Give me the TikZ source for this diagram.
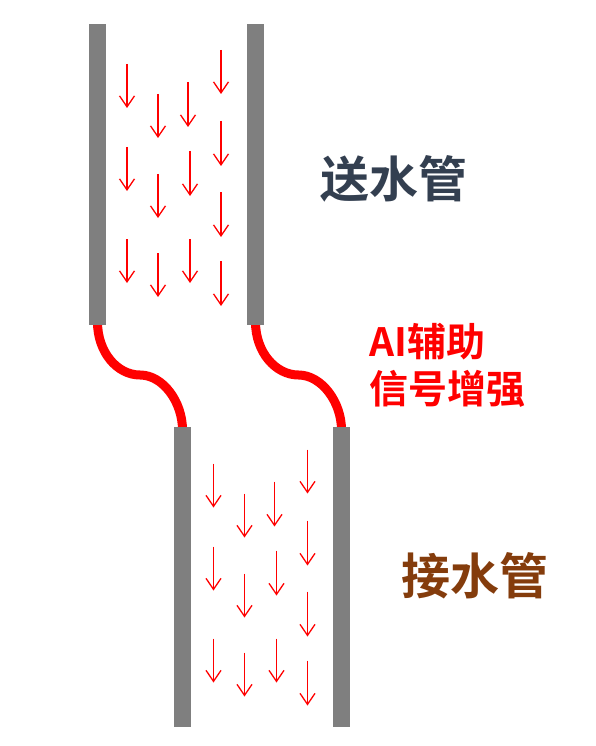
\documentclass[tikz,border=0pt]{standalone}
\usepackage{fontspec}
\newfontfamily\cjk{Noto Sans CJK SC}[BoldFont={Noto Sans CJK SC Bold}]
\usetikzlibrary{arrows.meta}
\definecolor{wallgray}{HTML}{7F7F7F}
\definecolor{labelslate}{HTML}{333F50}
\definecolor{labelbrown}{HTML}{843C0C}
\newcommand{\flowarrows}{%
    \draw[flow] (127,64) -- (127,108);
    \draw[flow] (127,147) -- (127,191);
    \draw[flow] (127,239) -- (127,283);
    \draw[flow] (158,94) -- (158,138);
    \draw[flow] (158,174) -- (158,218);
    \draw[flow] (158,253) -- (158,297);
    \draw[flow] (188,82) -- (188,127);
    \draw[flow] (190,151) -- (190,196);
    \draw[flow] (190,239) -- (190,283);
    \draw[flow] (221,50) -- (221,94);
    \draw[flow] (221,121) -- (221,166);
    \draw[flow] (221,192) -- (221,237);
    \draw[flow] (221,261) -- (221,306);
}

\begin{document}
\begin{tikzpicture}[x=1pt,y=-1pt,
    wall/.style={fill=wallgray,draw=none},
    flow/.style={-{Straight Barb[length=11pt,width=15pt]},red,line width=1.3pt},
    hose/.style={red,line width=9pt}]
    \useasboundingbox (0,0) rectangle (595,746);
    % Wall ends
    \coordinate (upleft) at (97.5,322);
    \coordinate (upright) at (255.5,322);
    \coordinate (lowleft) at (182.5,430);
    \coordinate (lowright) at (341.5,430);
    \coordinate (midleft) at (140,375);
    \coordinate (midright) at (298.5,375);
    % Red hoses between the pipes
    \draw[hose] (upleft) .. controls (97.5,352) and (117,375) .. (midleft)
        .. controls (163,375) and (182.5,402) .. (lowleft);
    \draw[hose] (upright) .. controls (255.5,352) and (275.5,375) .. (midright)
        .. controls (321.5,375) and (341.5,402) .. (lowright);
    % Upper pipe (send)
    \fill[wall] (89,24) rectangle (106,325);
    \fill[wall] (247,24) rectangle (264,325);
    \flowarrows
    % Lower pipe (receive)
    \fill[wall] (174,427) rectangle (191,727);
    \fill[wall] (333,427) rectangle (350,727);
    \begin{scope}[shift={(86.5,399.5)}]
        \flowarrows
    \end{scope}
    % Labels
    \node[text=labelslate,font=\cjk\bfseries\fontsize{49}{49}\selectfont] (send) at (394,179) {送水管};
    \node[text=labelbrown,font=\cjk\bfseries\fontsize{49}{49}\selectfont] (receive) at (475,576) {接水管};
    \node[text=red,font=\cjk\bfseries\fontsize{39}{47}\selectfont,align=left,anchor=west,inner sep=0pt] (boost) at (369,365) {AI辅助\\信号增强};
\end{tikzpicture}
\end{document}
